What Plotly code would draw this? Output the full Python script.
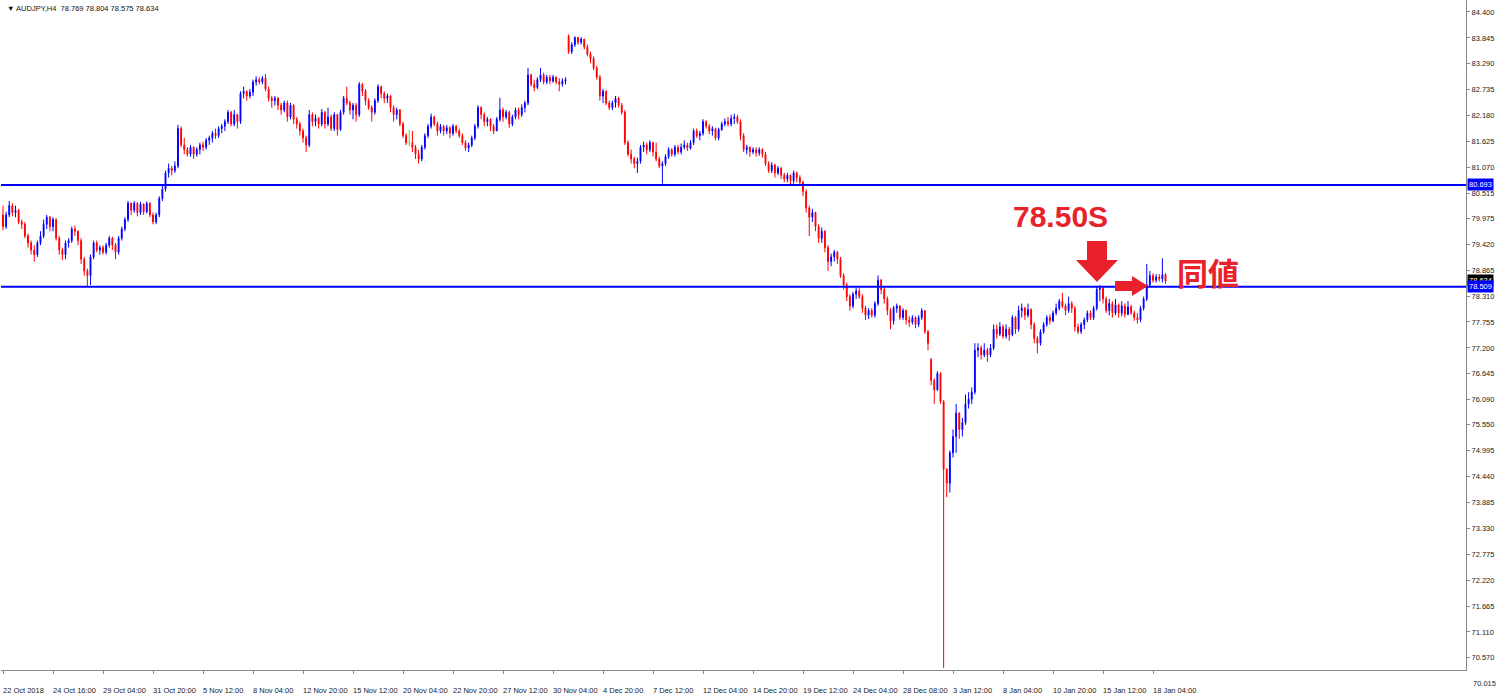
import plotly.graph_objects as go

# ---------------- data (AUDJPY H4) ----------------
first_open = 80.05
close = [
 79.80,80.05,80.25,80.10,80.15,79.90,79.85,79.60,79.45,79.30,
 79.20,79.45,79.60,79.85,80.00,79.80,79.95,79.55,79.30,79.20,
 79.45,79.50,79.75,79.70,79.50,79.10,78.85,78.75,79.15,79.45,
 79.30,79.35,79.25,79.40,79.55,79.40,79.25,79.55,79.75,79.95,
 80.30,80.15,80.30,80.10,80.28,80.12,80.30,80.05,79.90,80.05,
 80.40,80.60,80.95,81.05,81.00,81.10,81.90,81.55,81.45,81.35,
 81.50,81.35,81.45,81.55,81.50,81.65,81.70,81.80,81.75,81.90,
 81.95,82.05,82.25,82.00,82.20,82.05,82.65,82.70,82.60,82.68,
 82.90,82.95,82.90,82.98,82.75,82.55,82.50,82.55,82.40,82.30,
 82.45,82.15,82.40,82.10,82.00,81.85,81.70,81.55,82.20,82.05,
 82.12,82.00,82.25,82.00,82.15,81.90,82.20,81.88,82.25,82.55,
 82.45,82.30,82.40,82.20,82.85,82.70,82.50,82.35,82.25,82.50,
 82.80,82.65,82.55,82.60,82.35,82.20,82.30,82.00,81.75,81.60,
 81.60,81.50,81.35,81.25,81.50,81.75,81.95,82.15,82.00,81.85,
 81.95,81.85,81.92,81.80,81.95,81.85,81.75,81.60,81.48,81.55,
 81.70,81.95,82.35,82.20,82.05,82.10,81.95,81.85,82.10,82.30,
 82.15,82.25,82.00,82.15,82.30,82.20,82.35,82.45,83.05,82.85,
 82.78,82.95,83.05,82.90,83.00,82.92,83.00,82.90,82.85,82.92,
 82.95,83.55,83.70,83.85,83.75,83.82,83.65,83.50,83.40,83.20,
 83.00,82.60,82.70,82.45,82.35,82.45,82.55,82.40,82.25,81.60,
 81.35,81.25,81.15,81.20,81.50,81.55,81.45,81.60,81.40,81.25,
 81.10,81.15,81.30,81.45,81.35,81.50,81.40,81.50,81.55,81.48,
 81.60,81.85,81.75,81.80,82.05,81.95,81.85,81.90,81.70,81.88,
 82.00,82.05,82.00,82.12,82.15,82.05,81.75,81.45,81.50,81.40,
 81.45,81.38,81.45,81.35,81.15,81.00,81.12,80.95,81.05,80.90,
 80.82,80.90,80.78,80.95,80.85,80.75,80.55,80.20,80.00,80.10,
 79.80,79.55,79.70,79.35,79.05,79.15,79.25,79.10,78.75,78.55,
 78.30,78.10,78.35,78.42,78.30,78.05,77.90,78.00,77.90,78.15,
 78.65,78.45,78.25,78.00,77.78,78.05,78.10,77.85,78.00,77.80,
 77.75,77.85,77.70,77.85,78.00,77.55,77.30,76.50,76.30,76.65,
 76.05,74.60,74.30,74.95,75.30,75.80,75.45,75.60,76.00,76.10,
 76.25,77.15,77.20,77.05,77.15,77.05,77.20,77.60,77.50,77.65,
 77.45,77.60,77.48,77.85,77.60,78.00,78.05,77.90,78.02,77.70,
 77.40,77.30,77.55,77.70,77.85,77.78,77.95,78.05,78.20,78.10,
 78.00,78.15,78.05,77.65,77.55,77.70,77.80,77.95,77.85,78.05,
 78.45,78.48,78.25,78.00,78.15,77.95,78.12,77.95,78.10,77.92,
 78.08,77.95,77.85,77.80,78.05,78.25,78.55,78.75,78.65,78.72,
 78.68,78.769,78.634,
]
high = [
 80.25,80.12,80.35,80.30,80.25,80.18,79.95,79.90,79.65,79.50,
 79.40,79.50,79.70,79.95,80.05,80.03,80.00,79.98,79.60,79.35,
 79.50,79.55,79.80,79.82,79.72,79.55,79.15,78.90,79.20,79.50,
 79.50,79.40,79.40,79.45,79.60,79.58,79.45,79.60,79.80,80.00,
 80.35,80.32,80.35,80.32,80.33,80.30,80.34,80.32,80.10,80.10,
 80.45,80.70,81.00,81.15,81.10,81.20,81.98,81.95,81.70,81.50,
 81.55,81.52,81.50,81.60,81.62,81.70,81.75,81.85,81.90,81.95,
 82.00,82.10,82.30,82.28,82.30,82.22,82.70,82.80,82.72,82.75,
 82.95,83.02,83.00,83.03,83.07,82.80,82.60,82.60,82.58,82.45,
 82.50,82.50,82.45,82.42,82.15,82.05,81.90,81.75,82.30,82.25,
 82.20,82.15,82.32,82.28,82.35,82.20,82.25,82.22,82.30,82.60,
 82.80,82.50,82.45,82.45,82.90,82.88,82.75,82.55,82.40,82.55,
 82.85,82.82,82.70,82.65,82.62,82.40,82.35,82.32,82.05,81.80,
 81.87,81.85,81.55,81.45,81.55,81.80,82.00,82.22,82.18,82.05,
 82.00,81.98,81.98,81.95,82.00,81.98,81.90,81.80,81.65,81.60,
 81.75,82.00,82.40,82.38,82.25,82.15,82.12,82.00,82.15,82.56,
 82.35,82.30,82.28,82.20,82.35,82.35,82.42,82.50,83.20,83.08,
 82.95,83.00,83.20,83.10,83.05,83.05,83.05,83.02,82.98,82.98,
 83.00,83.92,83.75,83.88,83.87,83.86,83.82,83.70,83.55,83.45,
 83.25,83.05,82.75,82.72,82.50,82.50,82.60,82.58,82.45,82.30,
 81.65,81.45,81.30,81.28,81.55,81.62,81.60,81.65,81.62,81.60,
 81.30,81.20,81.35,81.50,81.48,81.55,81.55,81.58,81.65,81.60,
 81.65,81.90,81.90,81.85,82.10,82.08,82.00,81.95,81.92,81.92,
 82.05,82.12,82.15,82.20,82.22,82.20,82.10,81.80,81.55,81.52,
 81.50,81.50,81.50,81.48,81.40,81.20,81.18,81.15,81.10,81.08,
 80.95,80.95,80.92,81.00,80.98,80.90,80.78,80.60,80.25,80.18,
 80.12,79.85,79.78,79.72,79.40,79.22,79.30,79.28,79.15,78.80,
 78.60,78.35,78.40,78.50,78.48,78.35,78.10,78.05,78.05,78.20,
 78.75,78.68,78.50,78.30,78.05,78.10,78.15,78.12,78.05,78.02,
 77.88,77.90,77.88,77.90,78.05,78.00,77.58,76.98,76.55,76.70,
 76.68,76.08,74.62,75.00,75.45,76.00,75.82,75.70,76.20,76.25,
 76.35,77.30,77.30,77.25,77.30,77.20,77.28,77.70,77.70,77.75,
 77.70,77.70,77.65,77.90,77.88,78.10,78.15,78.08,78.15,78.05,
 77.75,77.45,77.60,77.75,77.90,77.92,78.00,78.15,78.25,78.38,
 78.15,78.30,78.20,78.10,77.72,77.75,77.85,78.00,78.00,78.10,
 78.52,78.55,78.50,78.30,78.25,78.20,78.25,78.15,78.20,78.15,
 78.20,78.12,78.00,77.95,78.10,78.30,79.00,78.85,78.80,78.78,
 78.78,79.12,78.804,
]
low = [
 79.72,79.75,80.00,80.02,80.00,79.85,79.75,79.55,79.35,79.20,
 79.05,79.15,79.40,79.55,79.75,79.70,79.70,79.50,79.20,79.08,
 79.10,79.35,79.45,79.60,79.40,79.00,78.75,78.52,78.55,79.10,
 79.25,79.20,79.20,79.20,79.35,79.30,79.10,79.20,79.50,79.70,
 79.90,80.05,80.10,80.02,80.05,80.05,80.08,80.00,79.85,79.85,
 80.00,80.35,80.55,80.85,80.90,80.95,81.05,81.50,81.35,81.30,
 81.30,81.25,81.30,81.35,81.42,81.45,81.55,81.60,81.68,81.70,
 81.80,81.85,82.00,81.95,81.95,81.90,82.00,82.55,82.50,82.55,
 82.60,82.82,82.85,82.85,82.70,82.48,82.35,82.40,82.30,82.20,
 82.25,82.05,82.10,82.00,81.90,81.75,81.60,81.40,81.50,81.95,
 81.95,81.90,81.95,81.90,81.95,81.85,81.85,81.75,81.85,82.20,
 82.40,82.20,82.10,82.05,82.15,82.60,82.40,82.30,82.05,82.20,
 82.45,82.55,82.45,82.45,82.25,82.05,82.10,81.95,81.70,81.55,
 81.52,81.40,81.25,81.15,81.20,81.45,81.70,81.90,81.95,81.75,
 81.80,81.75,81.78,81.70,81.75,81.80,81.70,81.55,81.42,81.40,
 81.50,81.65,81.90,82.10,81.95,81.95,81.85,81.78,81.85,82.05,
 82.05,82.10,81.92,81.95,82.10,82.10,82.15,82.25,82.40,82.80,
 82.70,82.75,82.90,82.85,82.85,82.85,82.88,82.85,82.70,82.80,
 82.85,83.50,83.50,83.65,83.70,83.70,83.60,83.45,83.30,83.15,
 82.95,82.50,82.45,82.40,82.30,82.30,82.35,82.35,82.20,81.55,
 81.30,81.15,81.05,80.95,81.15,81.40,81.35,81.40,81.30,81.20,
 81.05,80.72,81.10,81.25,81.30,81.30,81.35,81.35,81.45,81.42,
 81.45,81.55,81.70,81.65,81.75,81.90,81.78,81.75,81.65,81.65,
 81.85,81.95,81.95,81.95,82.00,82.00,81.65,81.40,81.35,81.30,
 81.35,81.30,81.32,81.28,81.10,80.95,80.95,80.85,80.90,80.82,
 80.75,80.75,80.70,80.72,80.75,80.70,80.45,80.10,79.60,79.90,
 79.70,79.45,79.45,79.25,78.85,78.95,79.05,79.00,78.70,78.45,
 78.20,78.00,78.05,78.25,78.25,77.95,77.80,77.82,77.85,77.85,
 78.10,78.35,78.15,77.90,77.60,77.70,77.95,77.80,77.80,77.70,
 77.65,77.70,77.62,77.65,77.80,77.50,77.15,76.40,76.00,76.28,
 76.00,70.34,74.00,74.10,74.85,74.95,75.25,75.30,75.55,75.90,
 76.00,76.20,77.00,76.95,77.00,76.90,77.00,77.15,77.40,77.45,
 77.40,77.40,77.35,77.45,77.50,77.55,77.85,77.80,77.85,77.60,
 77.30,77.08,77.25,77.50,77.65,77.70,77.75,77.90,78.00,78.05,
 77.90,77.95,77.95,77.55,77.50,77.50,77.60,77.75,77.80,77.80,
 78.00,78.20,78.15,77.95,77.90,77.85,77.90,77.85,77.88,77.85,
 77.90,77.90,77.78,77.72,77.75,78.00,78.20,78.50,78.60,78.60,
 78.62,78.60,78.575,
]
gap_open = {181: 83.88, 297: 76.95}   # weekend / holiday gaps
doji_bars = [130]                      # drawn in the "line graph" colour

time_labels = ["22 Oct 2018", "24 Oct 16:00", "29 Oct 04:00", "31 Oct 20:00",
               "5 Nov 12:00", "8 Nov 04:00", "12 Nov 20:00", "15 Nov 12:00",
               "20 Nov 04:00", "22 Nov 20:00", "27 Nov 12:00", "30 Nov 04:00",
               "4 Dec 20:00", "7 Dec 12:00", "12 Dec 04:00", "14 Dec 20:00",
               "19 Dec 12:00", "24 Dec 04:00", "28 Dec 08:00", "3 Jan 12:00",
               "8 Jan 04:00", "10 Jan 20:00", "15 Jan 12:00", "18 Jan 04:00"]
bars_per_label = 16

price_ticks = [84.400, 83.845, 83.290, 82.735, 82.180, 81.625, 81.070, 80.515,
               79.975, 79.420, 78.865, 78.310, 77.755, 77.200, 76.645, 76.090,
               75.550, 74.995, 74.440, 73.885, 73.330, 72.775, 72.220, 71.665,
               71.110, 70.570]
bottom_price_label = 70.015
levels = [80.693, 78.509]
last_price = 78.634
title = "▼ AUDJPY,H4 &nbsp;78.769 78.804 78.575 78.634"

# ---------------- build OHLC ----------------
n = len(close)
opens = [first_open] + [gap_open.get(i, close[i - 1]) for i in range(1, n)]
hi = [max(high[i], opens[i], close[i]) for i in range(n)]
lo = [min(low[i], opens[i], close[i]) for i in range(n)]
idx = list(range(n))
main = [i for i in idx if i not in doji_bars]

BLUE = "#0000FF"
RED = "#FF0000"
ARROW_RED = "#E8212B"
FONT = "Liberation Sans, Arial, sans-serif"
SMALL = 7.5

fig = go.Figure()
fig.add_trace(go.Candlestick(
    x=main, open=[opens[i] for i in main], high=[hi[i] for i in main],
    low=[lo[i] for i in main], close=[close[i] for i in main],
    increasing=dict(line=dict(color=BLUE, width=1), fillcolor=BLUE),
    decreasing=dict(line=dict(color=RED, width=1), fillcolor=RED),
    whiskerwidth=0, hoverinfo="skip", showlegend=False))
fig.add_trace(go.Candlestick(
    x=doji_bars, open=[opens[i] for i in doji_bars], high=[hi[i] for i in doji_bars],
    low=[lo[i] for i in doji_bars], close=[close[i] for i in doji_bars],
    increasing=dict(line=dict(color="#44DD44", width=1), fillcolor="#44DD44"),
    decreasing=dict(line=dict(color="#44DD44", width=1), fillcolor="#44DD44"),
    whiskerwidth=0, hoverinfo="skip", showlegend=False))

# horizontal levels
for lv in levels:
    fig.add_shape(type="line", xref="paper", yref="y", x0=0, x1=1, y0=lv, y1=lv,
                  line=dict(color=BLUE, width=2))

# ---------------- layout geometry ----------------
W, H = 1500, 695
ML, MR, MT, MB = 1, 34, 0, 25
PW, PH = W - ML - MR, H - MT - MB
bar_px = 3.125
x0 = -2.0 / bar_px
x1 = x0 + PW / bar_px
y_top, y_bot = 84.657, 70.295


def pxx(px):
    return (px - ML) / PW


def pxy(py):
    return 1 - (py - MT) / PH


fig.update_layout(
    width=W, height=H, margin=dict(l=ML, r=MR, t=MT, b=MB),
    paper_bgcolor="white", plot_bgcolor="white", showlegend=False,
    boxgap=0.6, hovermode=False,
    font=dict(family=FONT, size=SMALL, color="#222"),
    xaxis=dict(range=[x0, x1], rangeslider=dict(visible=False), showgrid=False,
               zeroline=False, tickmode="array",
               tickvals=[k * bars_per_label for k in range(len(time_labels))],
               showticklabels=False, ticks="outside", ticklen=3, tickcolor="#888",
               showline=True, linecolor="#888", linewidth=1, mirror=False),
    yaxis=dict(range=[y_bot, y_top], side="right", showgrid=False, zeroline=False,
               tickmode="array", tickvals=price_ticks,
               ticktext=[f"{v:.3f}" for v in price_ticks],
               ticks="outside", ticklen=3, tickcolor="#888",
               tickfont=dict(family=FONT, size=SMALL, color="#222"),
               showline=True, linecolor="#888", linewidth=1),
)

ann = []
# time labels
for k, t in enumerate(time_labels):
    ann.append(dict(x=k * bars_per_label, xref="x", y=0, yref="paper", text=t,
                    xanchor="left", yanchor="middle", yshift=-20, xshift=-2,
                    showarrow=False, font=dict(family=FONT, size=SMALL, color="#222")))
ann.append(dict(x=1, xref="paper", y=0, yref="paper", text=f"{bottom_price_label:.3f}",
                xanchor="left", yanchor="middle", xshift=5, yshift=-13, showarrow=False,
                font=dict(family=FONT, size=SMALL, color="#222")))
# price boxes
ann.append(dict(x=1, xref="paper", y=last_price, yref="y", text=f"{last_price:.3f}",
                xanchor="left", yanchor="middle", xshift=1, showarrow=False,
                bgcolor="black", borderpad=1,
                font=dict(family=FONT, size=SMALL, color="white")))
for lv in levels:
    ann.append(dict(x=1, xref="paper", y=lv, yref="y", text=f"{lv:.3f}",
                    xanchor="left", yanchor="middle", xshift=1, showarrow=False,
                    bgcolor=BLUE, borderpad=1,
                    font=dict(family=FONT, size=SMALL, color="white")))
# title
ann.append(dict(x=pxx(5), xref="paper", y=pxy(9), yref="paper", text=title,
                xanchor="left", yanchor="middle", showarrow=False,
                font=dict(family=FONT, size=SMALL, color="#111")))
# red call-outs
ann.append(dict(x=pxx(1060), xref="paper", y=pxy(216), yref="paper", text="78.50S",
                xanchor="center", yanchor="middle", showarrow=False,
                font=dict(family="Liberation Sans, Arial", size=30, color=ARROW_RED,
                          weight="bold")))
ann.append(dict(x=pxx(1208), xref="paper", y=pxy(271), yref="paper", text="同値",
                xanchor="center", yanchor="middle", showarrow=False,
                font=dict(family="Noto Sans CJK JP", size=31, color=ARROW_RED,
                          weight="bold")))
fig.update_layout(annotations=ann)


def poly(points):
    return "M " + " L ".join(f"{pxx(a):.5f},{pxy(b):.5f}" for a, b in points) + " Z"


down_arrow = [(1087, 241), (1107, 241), (1107, 260), (1118, 260), (1097, 282),
              (1076, 260), (1087, 260)]
right_arrow = [(1115, 281), (1132, 281), (1132, 276), (1148, 286), (1132, 296),
               (1132, 291), (1115, 291)]
for pts in (down_arrow, right_arrow):
    fig.add_shape(type="path", xref="paper", yref="paper", path=poly(pts),
                  fillcolor=ARROW_RED, line=dict(width=0), layer="above")

fig.write_html("out.html",
               config={"displayModeBar": False, "staticPlot": True},
               post_script="document.body.style.margin='0';"
                           "document.body.style.overflow='hidden';")
